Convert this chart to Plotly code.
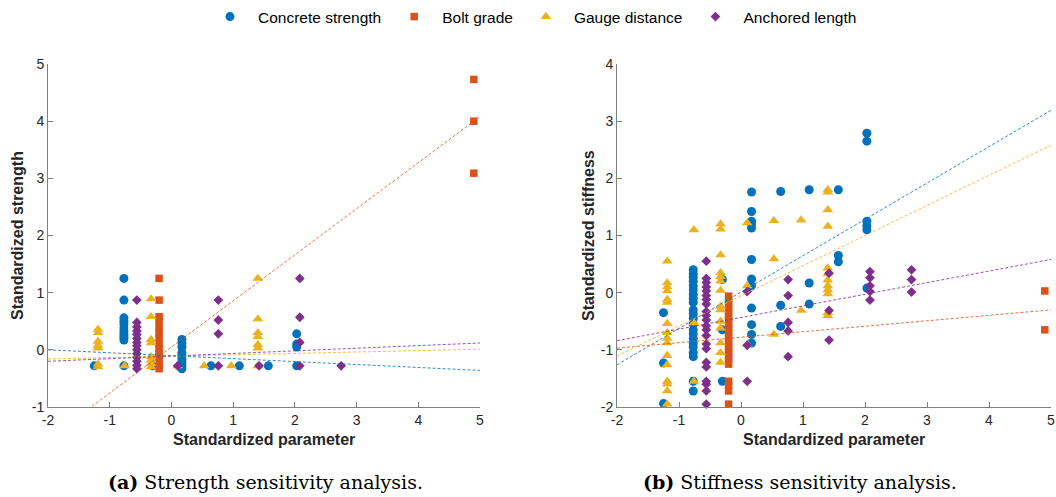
import plotly.graph_objects as go

# ---------------- data ----------------
series_names = ["Concrete strength", "Bolt grade", "Gauge distance", "Anchored length"]

concrete_levels = [-1.25, -0.77, -0.30, 0.17, 0.64, 1.10, 1.57, 2.03]
bolt_levels = [-0.20, 4.90]
gauge_levels = [-1.19, -0.76, -0.33, 0.10, 0.53, 0.97, 1.40]
anchored_levels = [-0.56, 0.10, 0.76, 1.42, 2.08, 2.75]

strength_concrete = [
    [-0.28],
    [1.25, 0.87, 0.56, 0.50, 0.45, 0.38, 0.32, 0.27, 0.22, 0.17, -0.28],
    [-0.28],
    [0.18, 0.12, 0.05, -0.05, -0.10, -0.16, -0.22, -0.28, -0.33],
    [-0.28],
    [-0.28],
    [-0.28],
    [0.28, 0.10, 0.05, -0.28],
]
strength_bolt = [
    [1.25, 0.87, 0.58, 0.52, 0.40, 0.30, 0.20, 0.10, 0.02, -0.06, -0.12, -0.20, -0.28, -0.33],
    [4.73, 4.00, 3.09],
]
strength_gauge = [
    [0.36, 0.30, 0.15, 0.08, 0.03, -0.25, -0.30],
    [-0.28],
    [0.89, 0.58, 0.18, 0.12, -0.12, -0.18, -0.24, -0.30],
    [-0.28],
    [-0.28],
    [-0.28],
    [1.25, 0.54, 0.30, 0.23, 0.09, 0.03, -0.28],
]
strength_anchored = [
    [0.87, 0.48, 0.40, 0.33, 0.27, 0.20, 0.13, 0.07, 0.00, -0.07, -0.13, -0.20, -0.27, -0.33],
    [-0.28],
    [0.87, 0.52, 0.28, -0.28],
    [-0.28],
    [1.25, 0.57, 0.13, -0.28],
    [-0.28],
]

stiffness_concrete = [
    [-0.35, -1.23, -1.94],
    [0.40, 0.33, 0.27, 0.20, 0.12, 0.05, -0.03, -0.10, -0.17, -0.30, -0.37, -0.45, -0.55,
     -0.65, -0.72, -0.80, -0.88, -0.95, -1.05, -1.12, -1.55, -1.72],
    [0.23, -0.65, -1.55],
    [1.76, 1.42, 1.25, 1.20, 1.13, 0.58, 0.24, 0.12, -0.27, -0.56, -0.73, -0.88],
    [1.77, -0.22, -0.59],
    [1.80, 0.17, -0.20],
    [1.80, 0.65, 0.54],
    [2.79, 2.65, 1.25, 1.17, 1.10, 0.08],
]
stiffness_bolt = [
    [-0.06, -0.13, -0.20, -0.27, -0.34, -0.41, -0.48, -0.55, -0.62, -0.69, -0.76, -0.83,
     -0.90, -0.97, -1.04, -1.11, -1.18, -1.25, -1.55, -1.63, -1.72, -1.95],
    [0.03, -0.65],
]
stiffness_gauge = [
    [0.55, 0.17, 0.10, 0.03, -0.12, -0.17, -0.54, -0.70, -0.80, -0.88, -1.10, -1.26,
     -1.55, -1.60, -1.72, -1.95],
    [1.10, -0.53, -1.55],
    [1.20, 1.11, 0.66, 0.35, 0.28, 0.20, 0.04, -0.24, -0.30, -0.50, -0.62, -0.88, -1.05, -1.22],
    [1.22, 0.12, -0.90],
    [1.26, 0.59, -0.73],
    [1.27, -0.31],
    [1.80, 1.76, 1.45, 1.16, 0.43, 0.33, 0.22, 0.12, 0.05, -0.02, -0.35, -0.40],
]
stiffness_anchored = [
    [0.55, 0.25, 0.18, 0.10, 0.03, -0.05, -0.12, -0.20, -0.33, -0.40, -0.48, -0.58, -0.65,
     -0.75, -0.90, -0.98, -1.22, -1.30, -1.55, -1.60, -1.72, -1.95],
    [0.02, -0.92, -1.55],
    [0.23, -0.05, -0.52, -0.67, -1.12],
    [0.34, -0.31, -0.83],
    [0.37, 0.26, 0.12, 0.02, -0.13],
    [0.40, 0.23, 0.01],
]

# linear trend lines (slope, intercept) per series
strength_slopes = [-0.0514, 0.806, 0.0243, 0.0457]
strength_intercepts = [-0.103, 0.05, -0.111, -0.109]
stiffness_slopes = [0.636, 0.0957, 0.527, 0.203]
stiffness_intercepts = [0.01, -0.779, -0.056, -0.434]

x_ticks = [-2, -1, 0, 1, 2, 3, 4, 5]
x_ticklabels = ["-2", "-1", "0", "1", "2", "3", "4", "5"]
strength_ticks = [-1, 0, 1, 2, 3, 4, 5]
strength_ticklabels = ["-1", "0", "1", "2", "3", "4", "5"]
stiffness_ticks = [-2, -1, 0, 1, 2, 3, 4]
stiffness_ticklabels = ["-2", "-1", "0", "1", "2", "3", "4"]

# ---------------- styling ----------------
colors = ["#0072BD", "#D95319", "#EDB120", "#7E2F8E"]
symbols = ["circle", "square", "triangle-up", "diamond"]
sizes = [9, 7.5, 9.5, 7.5]
FONT = "Liberation Sans, Arial, Helvetica, sans-serif"
AXC = "#262626"
W, H = 1056, 497


def flatten(levels, groups):
    xs, ys = [], []
    for lv, g in zip(levels, groups):
        for v in g:
            xs.append(lv)
            ys.append(v)
    return xs, ys


fig = go.Figure()
all_levels = [concrete_levels, bolt_levels, gauge_levels, anchored_levels]
panels = [
    ("x", "y", [strength_concrete, strength_bolt, strength_gauge, strength_anchored],
     strength_slopes, strength_intercepts, True),
    ("x2", "y2", [stiffness_concrete, stiffness_bolt, stiffness_gauge, stiffness_anchored],
     stiffness_slopes, stiffness_intercepts, False),
]

for xa, ya, groups, slopes, inters, show in panels:
    for i in range(4):
        xs, ys = flatten(all_levels[i], groups[i])
        fig.add_trace(go.Scatter(
            x=xs, y=ys, mode="markers", xaxis=xa, yaxis=ya,
            name=series_names[i], showlegend=show, cliponaxis=False,
            marker=dict(color=colors[i], symbol=symbols[i], size=sizes[i], line=dict(width=0)),
        ))
    for i in range(4):
        lx = [x_ticks[0], x_ticks[-1]]
        ly = [slopes[i] * v + inters[i] for v in lx]
        fig.add_trace(go.Scatter(
            x=lx, y=ly, mode="lines", xaxis=xa, yaxis=ya, showlegend=False,
            hoverinfo="skip", opacity=0.8,
            line=dict(color=colors[i], width=1, dash="3px,2px"),
        ))


def xaxis(domain, anchor):
    return dict(domain=domain, anchor=anchor, range=[-2, 5], tickvals=x_ticks,
                ticktext=x_ticklabels, ticks="inside", ticklen=5, tickcolor="#808080",
                showline=True, linecolor="#808080", linewidth=1, showgrid=False,
                zeroline=False, automargin=False, ticklabeloverflow="allow",
                tickfont=dict(family=FONT, size=14, color=AXC))


def yaxis(domain, anchor, rng, tv, tt):
    return dict(domain=domain, anchor=anchor, range=rng, tickvals=tv, ticktext=tt,
                ticks="inside", ticklen=5, tickcolor="#808080", showline=True,
                linecolor="#808080", linewidth=1, showgrid=False, zeroline=False,
                automargin=False, ticklabeloverflow="allow",
                tickfont=dict(family=FONT, size=14, color=AXC))


ydom = [(H - 407) / H, (H - 64) / H]
fig.update_layout(
    width=W, height=H,
    margin=dict(l=0, r=0, t=0, b=0, autoexpand=False),
    paper_bgcolor="white", plot_bgcolor="white",
    xaxis=xaxis([48 / W, 480 / W], "y"),
    yaxis=yaxis(ydom, "x", [-1, 5], strength_ticks, strength_ticklabels),
    xaxis2=xaxis([617 / W, 1051 / W], "y2"),
    yaxis2=yaxis(ydom, "x2", [-2, 4], stiffness_ticks, stiffness_ticklabels),
    legend=dict(orientation="h", x=532 / W, xanchor="center", y=1.0, yanchor="top",
                font=dict(family=FONT, size=15.5, color="#000000"), itemwidth=46,
                bgcolor="rgba(0,0,0,0)"),
    showlegend=True,
)

title_font = dict(family=FONT, size=16, color=AXC)
annots = [
    dict(text="<b>Standardized parameter</b>", x=264 / W, y=1 - 439 / H, font=title_font),
    dict(text="<b>Standardized parameter</b>", x=834 / W, y=1 - 439 / H, font=title_font),
    dict(text="<b>Standardized strength</b>", x=17 / W, y=1 - 236 / H, font=title_font, textangle=-90),
    dict(text="<b>Standardized stiffness</b>", x=588 / W, y=1 - 236 / H, font=title_font, textangle=-90),
]
cap_font = dict(family="DejaVu Serif, Liberation Serif, serif", size=19, color="#000000")
annots += [
    dict(text="<b>(a)</b> Strength sensitivity analysis.", x=265 / W, y=1 - 482 / H, font=cap_font),
    dict(text="<b>(b)</b> Stiffness sensitivity analysis.", x=800 / W, y=1 - 482 / H, font=cap_font),
]
for a in annots:
    a.update(xref="paper", yref="paper", showarrow=False, xanchor="center", yanchor="middle")
    fig.add_annotation(**a)

fig.write_html("out.html", config={"displayModeBar": False},
               post_script="document.body.style.margin='0';document.body.style.overflow='hidden';")
